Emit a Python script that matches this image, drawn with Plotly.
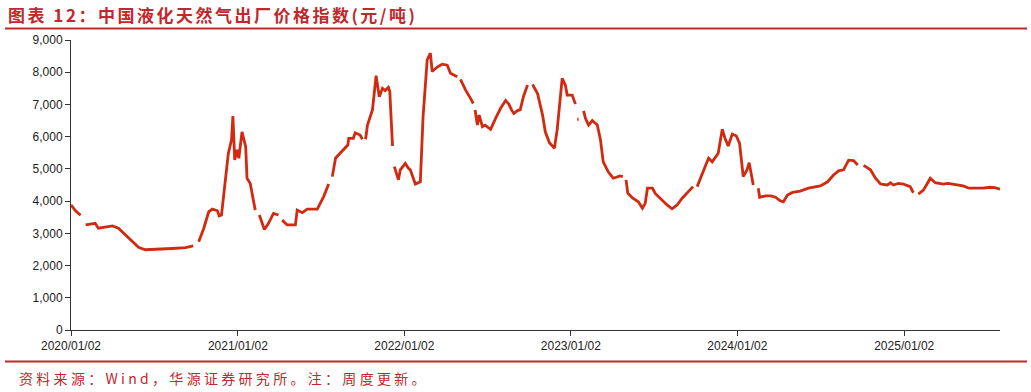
import plotly.graph_objects as go

# Weekly LNG ex-factory price index (yuan/ton); None = missing data
dates = [
    "2020-01-02", "2020-01-12", "2020-01-23", "2020-01-28",
    "2020-02-03", "2020-02-14", "2020-02-24", "2020-03-02", "2020-03-17", "2020-04-02",
    "2020-04-15", "2020-04-30", "2020-05-16", "2020-05-29", "2020-06-13", "2020-07-12",
    "2020-08-11", "2020-09-09", "2020-09-26", "2020-10-02",
    "2020-10-08", "2020-10-19", "2020-10-30", "2020-11-07", "2020-11-18", "2020-11-22",
    "2020-11-27", "2020-12-06", "2020-12-12", "2020-12-19", "2020-12-22", "2020-12-26",
    "2020-12-31", "2021-01-04", "2021-01-11", "2021-01-19", "2021-01-22", "2021-01-29",
    "2021-02-09", "2021-02-14",
    "2021-02-18", "2021-03-01", "2021-03-10", "2021-03-21", "2021-04-01", "2021-04-05",
    "2021-04-09", "2021-04-20", "2021-05-08", "2021-05-12", "2021-05-23", "2021-06-03",
    "2021-06-25", "2021-07-09", "2021-07-20", "2021-07-24",
    "2021-07-28", "2021-08-04", "2021-08-15", "2021-08-31", "2021-09-02", "2021-09-12",
    "2021-09-16", "2021-09-27", "2021-10-02", "2021-10-05",
    "2021-10-09", "2021-10-13", "2021-10-24", "2021-11-01", "2021-11-08", "2021-11-15",
    "2021-11-21", "2021-11-28", "2021-12-01", "2021-12-07", "2021-12-09",
    "2021-12-11", "2021-12-20", "2021-12-24", "2022-01-04", "2022-01-11", "2022-01-15",
    "2022-01-26", "2022-02-06", "2022-02-12", "2022-02-21", "2022-02-28", "2022-03-04",
    "2022-03-15", "2022-03-26", "2022-04-06", "2022-04-13", "2022-04-28", "2022-05-01",
    "2022-05-05", "2022-05-16", "2022-05-27", "2022-06-02", "2022-06-04",
    "2022-06-06", "2022-06-11", "2022-06-15", "2022-06-22", "2022-06-28", "2022-07-10",
    "2022-07-21", "2022-08-01", "2022-08-12", "2022-08-19", "2022-08-25", "2022-08-30",
    "2022-09-07", "2022-09-13", "2022-09-20", "2022-09-29", "2022-10-04",
    "2022-10-10", "2022-10-21", "2022-11-01", "2022-11-07", "2022-11-16", "2022-11-27",
    "2022-12-03", "2022-12-08", "2022-12-14", "2022-12-21", "2022-12-25", "2023-01-05",
    "2023-01-12", "2023-01-14",
    "2023-01-16", "2023-01-19", "2023-01-25",
    "2023-01-30", "2023-02-03", "2023-02-10", "2023-02-18", "2023-03-01", "2023-03-08",
    "2023-03-14", "2023-03-25", "2023-04-05", "2023-04-20", "2023-04-26", "2023-04-30",
    "2023-05-03", "2023-05-07", "2023-05-18", "2023-05-30", "2023-06-08", "2023-06-14",
    "2023-06-19", "2023-06-30", "2023-07-06", "2023-07-21", "2023-08-01", "2023-08-12",
    "2023-08-23", "2023-09-03", "2023-09-16", "2023-09-27", "2023-10-02",
    "2023-10-06", "2023-10-13", "2023-10-24", "2023-10-31", "2023-11-08", "2023-11-21",
    "2023-11-30", "2023-12-06", "2023-12-13", "2023-12-22", "2023-12-31", "2024-01-07",
    "2024-01-15", "2024-01-23", "2024-01-28", "2024-02-06", "2024-02-11",
    "2024-02-17", "2024-02-20", "2024-03-04", "2024-03-15", "2024-03-26", "2024-04-05",
    "2024-04-12", "2024-04-21", "2024-05-02", "2024-05-19", "2024-06-06", "2024-06-17",
    "2024-07-02", "2024-07-18", "2024-07-31", "2024-08-11", "2024-08-22", "2024-09-02",
    "2024-09-13", "2024-09-22", "2024-09-28",
    "2024-10-05", "2024-10-20", "2024-10-31", "2024-11-11", "2024-11-26", "2024-12-03",
    "2024-12-09", "2024-12-20", "2024-12-31", "2025-01-15", "2025-01-22", "2025-01-27",
    "2025-02-02", "2025-02-13", "2025-02-21", "2025-02-28", "2025-03-11", "2025-03-28",
    "2025-04-08", "2025-04-28", "2025-05-11", "2025-05-24", "2025-06-11", "2025-06-24",
    "2025-07-09", "2025-07-20", "2025-07-31",
]
prices = [
    3880, 3700, 3560, None,
    3260, 3290, 3310, 3160, 3200, 3230,
    3160, 2950, 2740, 2570, 2490, 2500,
    2530, 2555, 2610, None,
    2740, 3150, 3670, 3750, 3700, 3540,
    3570, 4650, 5480, 5900, 6640, 5280,
    5590, 5330, 6150, 5690, 4710, 4550,
    3720, None,
    3570, 3120, 3310, 3620, 3570, None,
    3410, 3260, 3260, 3720, 3640, 3750,
    3750, 4140, 4530, None,
    4760, 5330, 5500, 5740, 5950, 5950,
    6120, 6050, 5920, None,
    5920, 6360, 6830, 7890, 7240, 7500,
    7430, 7530, 7400, 5710, None,
    5070, 4660, 4970, 5170, 5020, 4970,
    4530, 4600, 6620, 8380, 8590, 8020,
    8160, 8250, 8220, 7970, 7860, None,
    7780, 7450, 7190, 7030, None,
    6830, 6360, 6670, 6310, 6360, 6230,
    6570, 6880, 7120, 7010, 6830, 6720,
    6810, 6830, 7240, 7600, None,
    7620, 7340, 6670, 6150, 5810, 5640,
    6210, 7030, 7810, 7600, 7290, 7290,
    7010, None,
    6540, 6540, None,
    6800, 6570, 6360, 6500, 6360, 5900,
    5220, 4910, 4710, 4780, 4760, None,
    4660, 4240, 4090, 3980, 3780, 3930,
    4400, 4400, 4240, 4030, 3880, 3760,
    3880, 4090, 4290, 4450, None,
    4450, 4680, 5090, 5330, 5220, 5480,
    6230, 5950, 5710, 6080, 6020, 5790,
    4760, 4960, 5190, 4500, None,
    4400, 4120, 4160, 4160, 4120, 4010,
    3980, 4190, 4270, 4310, 4400, 4430,
    4470, 4600, 4810, 4940, 4970, 5270,
    5260, 5120, None,
    5110, 4970, 4710, 4530, 4500, 4570,
    4500, 4550, 4530, 4450, 4260, None,
    4220, 4340, 4530, 4710, 4570, 4530,
    4550, 4500, 4470, 4400, 4390, 4400,
    4430, 4420, 4370,
]

tick_dates = ["2020-01-02", "2021-01-02", "2022-01-02", "2023-01-02", "2024-01-02", "2025-01-02"]
tick_labels = ["2020/01/02", "2021/01/02", "2022/01/02", "2023/01/02", "2024/01/02", "2025/01/02"]
y_ticks = [0, 1000, 2000, 3000, 4000, 5000, 6000, 7000, 8000, 9000]

title_text = "图表 12：中国液化天然气出厂价格指数(元/吨)"
source_text = "资料来源：Wind，华源证券研究所。注：周度更新。"

RED = "#C1272D"
LINE_RED = "#D12A10"
AXIS = "#333333"

fig = go.Figure()
fig.add_trace(go.Scatter(
    x=dates, y=prices, mode="lines",
    line=dict(color=LINE_RED, width=2.8),
    connectgaps=False, showlegend=False,
))

# plot area: x 71..1000, y 40..330 (pixels)
W, H = 1031, 392
L, R, T, B = 71, 1000, 40, 330
pw, ph = R - L, B - T

def px(x):
    return (x - L) / pw

def py(y):
    return (B - y) / ph

fig.update_layout(
    width=W, height=H,
    margin=dict(l=L, r=W - R, t=T, b=H - B, pad=0),
    paper_bgcolor="white", plot_bgcolor="white",
    font=dict(family="Liberation Sans, Arial, sans-serif", size=12, color=AXIS),
    xaxis=dict(
        type="date", range=["2020-01-02", "2025-07-31"],
        tickvals=tick_dates, ticktext=tick_labels,
        showgrid=False, zeroline=False,
        showline=True, linecolor=AXIS, linewidth=1,
        ticks="outside", ticklen=5, tickcolor=AXIS, tickwidth=1,
        tickfont=dict(size=12, color="#222222"),
    ),
    yaxis=dict(
        range=[0, 9000], tickvals=y_ticks, tickformat=",d",
        showgrid=False, zeroline=False,
        showline=True, linecolor=AXIS, linewidth=1,
        ticks="outside", ticklen=5, tickcolor=AXIS, tickwidth=1,
        tickfont=dict(size=12, color="#222222"),
    ),
    shapes=[
        dict(type="line", xref="paper", yref="paper",
             x0=px(5), x1=px(1027), y0=py(28.5), y1=py(28.5),
             line=dict(color=RED, width=2)),
        dict(type="line", xref="paper", yref="paper",
             x0=px(5), x1=px(1027), y0=py(361.5), y1=py(361.5),
             line=dict(color=RED, width=2)),
    ],
    annotations=[
        dict(xref="paper", yref="paper", x=px(6), y=py(14.5),
             xanchor="left", yanchor="middle", showarrow=False,
             text='<b><span style="letter-spacing:2.5px">' + title_text + '</span></b>',
             font=dict(family="Noto Sans CJK SC", size=17, color=RED)),
        dict(xref="paper", yref="paper", x=px(17), y=py(378),
             xanchor="left", yanchor="middle", showarrow=False,
             text='<span style="letter-spacing:3.3px">' + source_text + '</span>',
             font=dict(family="Noto Sans CJK SC", size=14, color=RED)),
    ],
)

fig.write_html("out.html")
